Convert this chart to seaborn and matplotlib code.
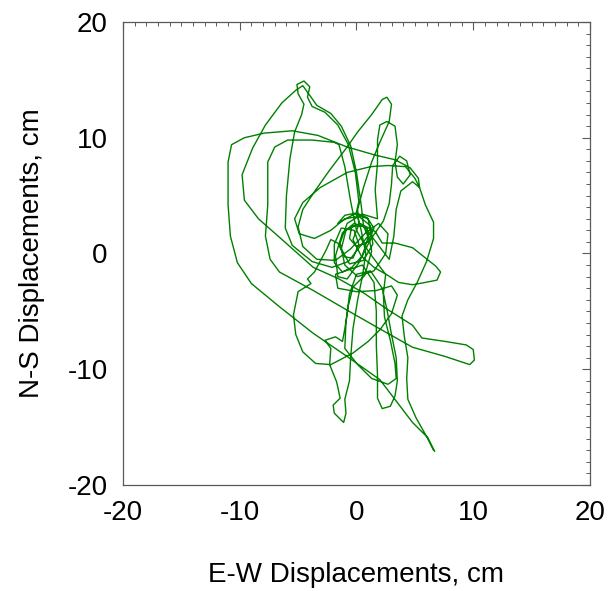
import numpy as np
import pandas as pd
import seaborn as sns
import matplotlib
matplotlib.use("Agg")
import matplotlib.pyplot as plt
from matplotlib.ticker import MultipleLocator

# particle motion trace (cm); one line per stroke
ew_cm = [
    6.6, 6.0, 5.1, 4.4, 4.3, 4.4, 4.1, 3.9, 4.4, 5.2, 6.0, 6.6, 6.6, 5.9, 5.4, 5.0, 4.2, 2.7, 1.2, -0.8, -3.1, -4.6, -5.3, -4.9,
    -3.6, -2.2, -1.0, 0.2, 1.2, 1.4, 0.6, -0.6, -1.3, -0.9, 0.3, 1.6, 2.2,
    3.3, 4.8, 5.8, 6.8, 7.2, 6.9, 5.9, 4.8, 3.6, 2.7, 1.5, 0.4, -0.3, 0.2,
    0.1, 0.6, 1.3, 2.0, 2.8, 3.0, 2.6, 2.2, 1.3, 0.1, -0.8, -2.3, -3.7, -4.6, -5.0, -4.6, -3.4,
    -1.8, -0.5, 0.8, 1.9, 2.7, 2.5, 1.5, 0.1, -1.0, -1.4, -0.8, 0.5, 1.8,
    1.6, 1.8, 1.8, 2.0, 2.6, 3.3, 3.5, 3.3, 3.5, 4.0, 4.6, 4.3, 3.7, 3.1, 3.0, 2.8, 2.3,
    1.2, 0.2, -0.8, -1.6, -1.8, -1.2, -0.2, 0.9, 1.3, 0.7, -0.3,
    -0.7, -1.0, -1.2, -1.8, -2.7, -2.2, -2.3, -1.7, -1.4, -2.0, -1.9, -1.1, -0.9, -1.0, -0.6, -0.5, -0.3, 0.1, 0.5,
    0.8, 0.4, 0.0, 0.2, -0.1, -0.7, -1.6, -2.7, -3.8, -4.2, -4.0, -4.5, -5.1, -5.0, -4.5, -4.7, -5.3, -5.7, -6.0, -6.1, -5.5, -3.8, -2.1, -0.7,
    0.3, 1.2, 1.0, -0.2, -1.6,
    -1.0, 0.0, 0.9, 1.5, 1.0, 0.0, -0.6, -0.4, 0.6, 1.0, 0.5, -0.4, -1.2, -1.9, -1.9, -1.3, -0.2, 0.2, -0.3, -1.0, -1.6, -2.2,
    -2.6, -3.6, -4.2, -3.9, -5.0, -5.4, -5.2, -4.6, -3.5, -2.2, -0.3, 1.0, 2.0, 3.0, 3.5, 3.0, 1.7, 0.0, -1.6, -1.8,
    0.5, 1.5, 1.7, 1.7, 1.8, 1.8, 2.2, 2.9, 3.3, 3.5, 3.4, 3.0, 2.6, 2.2, 1.2,
    0.0, -0.6, -0.9, -1.0, 0.1, 1.3, 2.7, 3.4, 3.3, 2.9, 2.4, 2.3, 2.5,
    1.0, 0.0, -0.5, -1.0, -1.5, -1.9, -3.8, -5.9, -7.0, -7.6, -7.6, -7.8, -7.4, -6.6, -3.7, -0.8, 1.8, 4.8, 7.6, 9.7,
    10.1, 10.0, 9.4, 7.6, 5.6, 4.8, 2.6, 0.6, -1.5, -3.7, -6.6, -8.4, -9.6, -9.8, -8.9, -7.8, -6.4, -5.2, -4.6, -4.1,
    -3.4, -2.2, -1.3, -0.5, 0.0, 0.4, 0.6,
    2.8, 3.2, 3.4, 3.8, 4.8, 5.4, 5.3, 4.6, 3.3, 1.6, -0.8, -3.3, -5.5, -7.9, -9.6, -10.7, -11.0, -11.0, -10.8, -10.2,
    -9.0, -7.8, -6.6, -3.7, -0.8, 2.0, 4.8, 6.1, 6.7,
]
ns_cm = [
    -17.0, -15.8, -14.2, -12.6, -10.8, -9.0, -7.2, -5.4, -4.0, -2.5, -0.7, 1.3, 2.7, 4.2, 5.7, 6.5, 7.5, 7.6, 7.5, 7.0, 5.7, 4.4, 3.0, 1.7,
    1.3, 2.0, 3.0, 3.2, 2.4, 0.8, -0.6, -0.9, 0.4, 2.0, 2.6, 1.9, 0.9,
    0.9, 0.5, -0.3, -1.1, -1.6, -2.3, -2.5, -2.7, -2.5, -1.9, -1.2, -0.2, 1.2, 2.5,
    3.8, 5.7, 7.9, 9.6, 11.4, 12.9, 13.5, 13.3, 12.0, 10.5, 9.2, 7.2, 5.2, 3.8, 2.3, 0.6, -0.5,
    -0.6, 0.4, 1.8, 2.6, 1.7, 0.0, -1.5, -2.0, -1.0, 0.9, 2.6, 3.4, 3.0,
    5.5, 7.8, 9.8, 11.1, 11.4, 11.0, 9.4, 7.9, 6.6, 6.0, 6.8, 8.0, 8.4, 7.6, 6.0, 4.3, 2.8,
    1.2, -0.8, -2.2, -2.0, -0.2, 1.8, 2.6, 2.2, 0.2, -1.9, -2.9,
    -4.5, -6.5, -7.6, -7.2, -7.5, -8.2, -9.6, -11.1, -12.5, -13.1, -13.8, -14.6, -13.8, -12.6, -11.0, -9.0, -6.5, -4.0, -2.0,
    0.0, 2.0, 3.6, 4.5, 7.0, 9.4, 11.1, 12.2, 12.7, 13.5, 14.4, 14.9, 14.6, 13.8, 12.9, 12.0, 10.5, 8.2, 5.0, 2.2, 0.7, -0.7, -1.2, -0.7,
    0.6, 1.8, 3.0, 3.4, 2.6,
    3.3, 3.5, 3.1, 2.2, 1.0, 0.6, 1.3, 2.4, 2.4, 1.4, -0.2, -1.2, -1.6, -0.8, 0.8, 2.2, 2.0, 0.8, -0.4, -0.3, 0.9, 1.2,
    0.3, -1.6, -2.2, -2.6, -3.3, -5.3, -7.0, -8.5, -9.5, -9.6, -8.6, -7.6, -6.6, -5.2, -3.6, -2.8, -3.2, -3.3, -3.0, -1.8,
    -1.0, -2.5, -5.0, -8.0, -10.5, -12.5, -13.4, -13.2, -12.3, -11.0, -9.0, -7.0, -4.8, -3.0, -1.5,
    -1.8, -3.5, -6.0, -8.2, -9.6, -10.8, -11.3, -10.8, -9.5, -7.5, -5.5, -3.5, -1.8,
    0.2, 2.0, 4.5, 7.5, 9.4, 9.6, 9.8, 9.8, 9.2, 7.9, 4.2, 1.5, -0.5, -1.6, -3.2, -4.9, -6.4, -8.1, -8.9, -9.6,
    -9.2, -8.3, -7.9, -7.6, -7.3, -6.2, -4.8, -3.4, -2.2, -1.2, 1.4, 3.0, 4.6, 6.8, 9.1, 11.1, 13.0, 14.1, 14.5, 13.8,
    12.8, 12.1, 11.0, 9.3, 7.0, 4.2, 2.4,
    -0.5, 1.5, 3.8, 5.4, 6.2, 5.7, 6.5, 7.4, 8.1, 8.5, 9.2, 10.2, 10.6, 10.4, 10.0, 9.4, 7.9, 4.2, 1.5, -0.8,
    -2.6, -3.6, -4.6, -6.9, -8.9, -10.9, -14.6, -15.9, -17.1,
]
axis_ticks = [-20, -10, 0, 10, 20]

df = pd.DataFrame({"ew": ew_cm, "ns": ns_cm})
df["step"] = np.arange(len(df))

sns.set_theme(style="white")
plt.rcParams["font.family"] = ["Liberation Sans", "DejaVu Sans"]
plt.rcParams["axes.unicode_minus"] = False

fig = plt.figure(figsize=(6.11, 5.91), dpi=100)
ax = fig.add_axes([0.2013, 0.1794, 0.7643, 0.7834])

sns.lineplot(data=df, x="ew", y="ns", sort=False, estimator=None,
             color="#008000", lw=1.0, ax=ax)

ax.set_xlim(-20, 20)
ax.set_ylim(-20, 20)
ax.set_xticks(axis_ticks)
ax.set_yticks(axis_ticks)
ax.xaxis.set_minor_locator(MultipleLocator(1))
ax.yaxis.set_minor_locator(MultipleLocator(1))
ax.tick_params(which="both", direction="in", top=True, right=True,
               color="0.35", labelcolor="black")
ax.tick_params(which="major", length=6, width=0.8, labelsize=20, pad=11)
ax.tick_params(which="minor", length=3, width=0.7)
for sp in ax.spines.values():
    sp.set_color("0.35")
    sp.set_linewidth(0.9)

ax.set_xlabel("E-W Displacements, cm", fontsize=20, labelpad=26, color="black")
ax.set_ylabel("N-S Displacements, cm", fontsize=20, labelpad=16, color="black")

fig.savefig("out.png", dpi=100)
